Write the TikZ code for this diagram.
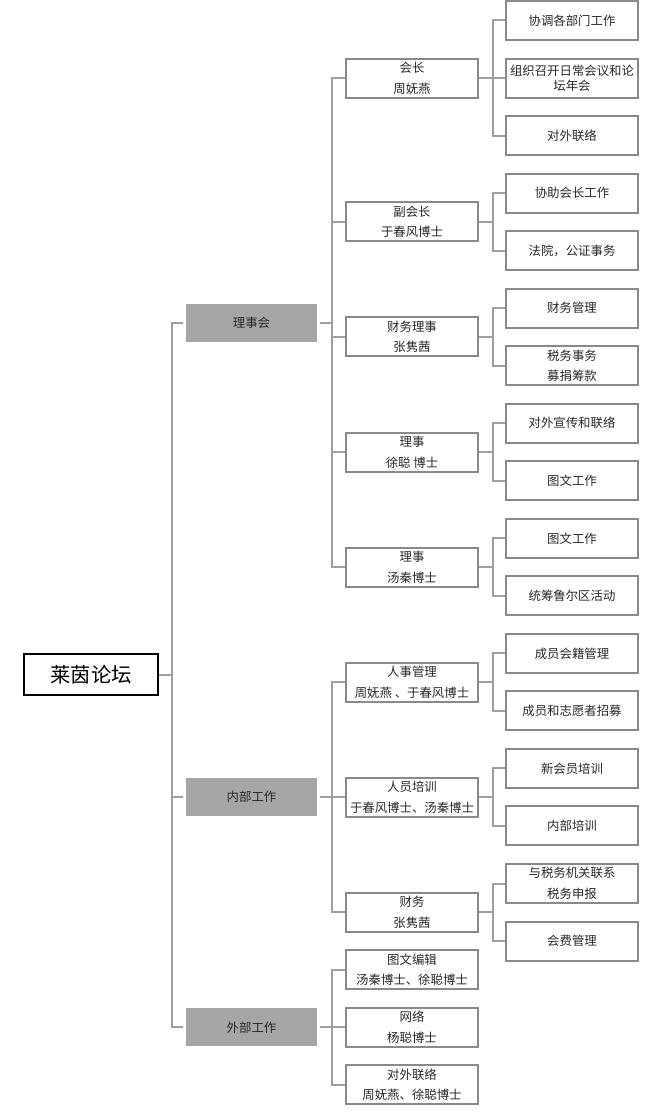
\documentclass[tikz,border=0pt]{standalone}
\usepackage{fontspec}
\setmainfont{Noto Sans CJK SC}
\usepackage{tikz}
\usetikzlibrary{positioning,calc}
\definecolor{boxgray}{RGB}{138,138,138}
\definecolor{linegray}{RGB}{160,160,160}
\definecolor{fillgray}{RGB}{166,166,166}
\definecolor{txt}{RGB}{40,40,40}
\tikzstyle{root} = [rectangle, draw=black, line width=1.5pt, minimum width=100.5pt, minimum height=30.75pt, inner sep=0pt, font=\fontsize{15.3}{18}\selectfont]
\tikzstyle{group} = [rectangle, fill=fillgray, text=txt, minimum width=98.25pt, minimum height=28.5pt, inner sep=0pt, outer sep=2.25pt, font=\fontsize{9.3}{15}\selectfont]
\tikzstyle{role} = [rectangle, draw=boxgray, line width=1.5pt, text=txt, align=center, minimum width=99pt, minimum height=29.25pt, inner sep=0pt, font=\fontsize{9.3}{15.5}\selectfont]
\tikzstyle{task} = [role, node distance=12.4pt]
\tikzstyle{line} = [draw=linegray, line width=1.5pt]

\begin{document}
\begin{tikzpicture}[x=0.75pt, y=-0.75pt]
    \useasboundingbox (0,0) rectangle (663,1113);
    % tasks
    \node [task] at (572,20.5) (coord) {协调各部门工作};
    \node [task, below=of coord] (meet) {组织召开日常会议和论\\[-4.5pt]坛年会};
    \node [task, below=of meet] (contact) {对外联络};
    \node [task, below=of contact] (assist) {协助会长工作};
    \node [task, below=of assist] (legal) {法院，公证事务};
    \node [task, below=of legal] (money) {财务管理};
    \node [task, below=of money] (tax) {税务事务\\募捐筹款};
    \node [task, below=of tax] (promo) {对外宣传和联络};
    \node [task, below=of promo] (gfxa) {图文工作};
    \node [task, below=of gfxa] (gfxb) {图文工作};
    \node [task, below=of gfxb] (ruhr) {统筹鲁尔区活动};
    \node [task, below=of ruhr] (member) {成员会籍管理};
    \node [task, below=of member] (recruit) {成员和志愿者招募};
    \node [task, below=of recruit] (newbie) {新会员培训};
    \node [task, below=of newbie] (intern) {内部培训};
    \node [task, below=of intern] (taxoff) {与税务机关联系\\税务申报};
    \node [task, below=of taxoff] (fees) {会费管理};
    % roles
    \node [role] at ($(meet)+(-160,0)$) (chair) {会长\\周妩燕};
    \node [role] at ($(assist)!0.5!(legal)+(-160,0)$) (vice) {副会长\\于春风博士};
    \node [role] at ($(money)!0.5!(tax)+(-160,0)$) (treas) {财务理事\\张隽茜};
    \node [role] at ($(promo)!0.5!(gfxa)+(-160,0)$) (dirxu) {理事\\徐聪 博士};
    \node [role] at ($(gfxb)!0.5!(ruhr)+(-160,0)$) (dirtang) {理事\\汤秦博士};
    \node [role] at ($(member)!0.5!(recruit)+(-160,0)$) (hr) {人事管理\\周妩燕 、于春风博士};
    \node [role] at ($(newbie)!0.5!(intern)+(-160,0)$) (train) {人员培训\\于春风博士、汤秦博士};
    \node [role] at ($(taxoff)!0.5!(fees)+(-160,0)$) (fin) {财务\\张隽茜};
    \node [role, below=12.4pt of fin] (edit) {图文编辑\\汤秦博士、徐聪博士};
    \node [role, below=12.4pt of edit] (web) {网络\\杨聪博士};
    \node [role, below=12.4pt of web] (liaison) {对外联络\\周妩燕、徐聪博士};
    % groups
    \node [group] at ($(chair)!0.5!(dirtang)+(-160.5,0)$) (board) {理事会};
    \node [group] at ($(hr)!0.5!(fin)+(-160.5,0)$) (internal) {内部工作};
    \node [group] at ($(edit)!0.5!(liaison)+(-160.5,0)$) (external) {外部工作};
    \node [root] at ($(board)!0.5!(external)+(-160.5,0)$) (forum) {莱茵论坛};
    % connectors
    \foreach \c in {board,internal,external} \path [line] (forum.east) -- ++(13,0) |- (\c.west);
    \foreach \c in {chair,vice,treas,dirxu,dirtang} \path [line] (board.east) -- ++(12,0) |- (\c.west);
    \foreach \c in {hr,train,fin} \path [line] (internal.east) -- ++(12,0) |- (\c.west);
    \foreach \c in {edit,web,liaison} \path [line] (external.east) -- ++(12,0) |- (\c.west);
    \foreach \p/\a/\b in {chair/coord/contact,vice/assist/legal,treas/money/tax,dirxu/promo/gfxa,dirtang/gfxb/ruhr,hr/member/recruit,train/newbie/intern,fin/taxoff/fees}
        \path [line] (\a.west) -| ($(\p.east)+(14,0)$) |- (\b.west);
    \foreach \p in {chair,vice,treas,dirxu,dirtang,hr,train,fin} \path [line] (\p.east) -- ++(14,0);
    \path [line] ($(chair.east)+(14,0)$) -- (meet.west);
\end{tikzpicture}
\end{document}
